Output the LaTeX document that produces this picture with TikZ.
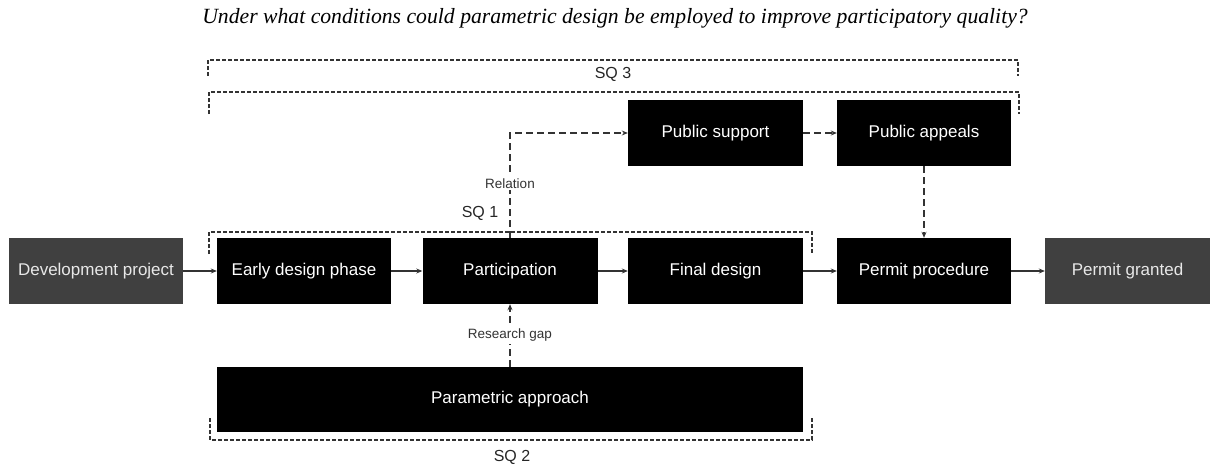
\documentclass[tikz,border=0pt]{standalone}
\usepackage{fontspec}
\setmainfont{Liberation Serif}
\setsansfont{Liberation Sans}
\usetikzlibrary{arrows.meta}
\definecolor{boxgray}{HTML}{404040}
\definecolor{lighttxt}{HTML}{E8E8E8}
\definecolor{dashgray}{HTML}{333333}
\begin{document}
\begin{tikzpicture}[x=1pt,y=-1pt,
 blk/.style={fill=black,text=white,minimum width=174pt,minimum height=66pt,inner sep=0pt,font=\sffamily\fontsize{17}{20}\selectfont},
 gry/.style={blk,fill=boxgray,text=lighttxt},
 flow/.style={-{Stealth[length=6pt,width=5pt]},line width=1.3pt,draw=black!80},
 link/.style={flow,dash pattern=on 7pt off 4pt},
 brace/.style={draw=dashgray,line width=1.2pt,dash pattern=on 4pt off 2pt},
 lbl/.style={font=\sffamily\fontsize{13.5}{16}\selectfont,fill=white,inner sep=2pt,text=black!80},
 sq/.style={font=\sffamily\fontsize{16}{19}\selectfont,text=black!85}]
\useasboundingbox (0,0) rectangle (1210,466);

\node[font=\fontsize{21.7}{26}\selectfont\itshape] (title) at (615,18) {Under what conditions could parametric design be employed to improve participatory quality?};

\node[gry] (dev) at (96,271) {Development project};
\node[blk] (early) at (304,271) {Early design phase};
\node[blk,minimum width=175pt] (part) at (510,271) {Participation};
\node[blk,minimum width=175pt] (final) at (715.5,271) {Final design};
\node[blk] (perm) at (924,271) {Permit procedure};
\node[gry,minimum width=165pt] (grant) at (1127.5,271) {Permit granted};
\node[blk,minimum width=175pt] (supp) at (715.5,133) {Public support};
\node[blk] (appe) at (924,133) {Public appeals};
\node[blk,minimum width=586pt,minimum height=65pt] (para) at (510,399.5) {Parametric approach};

\draw[flow] (dev) -- (early);
\draw[flow] (early) -- (part);
\draw[flow] (part) -- (final);
\draw[flow] (final) -- (perm);
\draw[flow] (perm) -- (grant);

\draw[link] (part.north) |- (supp.west) node[lbl,pos=0.26] {Relation};
\draw[link] (para.north) -- (part.south) node[lbl,midway] {Research gap};
\draw[link] (supp) -- (appe);
\draw[link] (appe) -- (perm);

\draw[brace] (208,76) -- (208,60) -- (1018,60) -- (1018,76);
\draw[brace] (209,114) -- (209,92) -- (1019,92) -- (1019,114);
\draw[brace] (209,254) -- (209,232) -- (812,232) -- (812,254);
\draw[brace] (210,418) -- (210,440) -- (812,440) -- (812,418);

\node[sq] (sq3) at (613,74) {SQ 3};
\node[sq] (sq1) at (480,213) {SQ 1};
\node[sq] (sq2) at (512,457) {SQ 2};
\end{tikzpicture}
\end{document}
